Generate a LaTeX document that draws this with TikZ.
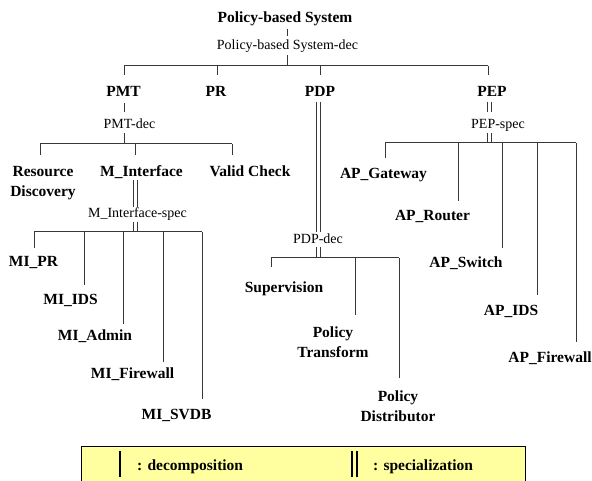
\documentclass[tikz,border=0pt]{standalone}
\usepackage{fontspec}
\setmainfont{Liberation Serif}
\begin{document}
\begin{tikzpicture}[x=1pt,y=-1pt,
  lbl/.style={font=\fontsize{15.5}{20}\selectfont\bfseries, align=center, inner sep=0pt, anchor=base},
  declbl/.style={font=\fontsize{14}{16}\selectfont, inner sep=0pt, anchor=base},
  legtxt/.style={font=\fontsize{15.5}{18}\selectfont\bfseries, inner sep=0pt, anchor=base west},
  ln/.style={draw=black!78, line width=1pt}]
\useasboundingbox (0,0) rectangle (592,481);

% legend
\fill[fill={rgb,255:red,255;green,255;blue,160}] (81,446) rectangle (525,482);
\draw[line width=1pt] (81,482) -- (81,446) -- (525,446) -- (525,482);
\coordinate (ld1) at (120,451); \coordinate (ld2) at (120,477);
\draw[line width=1.6pt] (ld1) -- (ld2);
\coordinate (ls1) at (352,451); \coordinate (ls2) at (352,477);
\coordinate (ls3) at (357,451); \coordinate (ls4) at (357,477);
\draw[line width=1.2pt] (ls1) -- (ls2);
\draw[line width=1.2pt] (ls3) -- (ls4);
\node[legtxt] (legdec) at (137,470) {: decomposition};
\node[legtxt] (legspec) at (373,470) {: specialization};

% text nodes
\node[lbl] (sys) at (285,23) {Policy-based System};
\node[declbl] (sysdec) at (287.5,50) {Policy-based System-dec};
\node[lbl] (pmt) at (123.5,97) {PMT};
\node[lbl] (pr) at (216,97) {PR};
\node[lbl] (pdp) at (320,97) {PDP};
\node[lbl] (pep) at (492,97) {PEP};
\node[declbl] (pmtdec) at (129.5,129) {PMT-dec};
\node[declbl] (pepspec) at (498,128.5) {PEP-spec};
\node[lbl] (rd) at (43,197) {Resource\\Discovery};
\node[lbl] (mi) at (141.5,177) {M\_Interface};
\node[lbl] (vc) at (250,177) {Valid Check};
\node[declbl] (mispec) at (137.5,218) {M\_Interface-spec};
\node[lbl] (mipr) at (33.5,267) {MI\_PR};
\node[lbl] (miids) at (70.5,305) {MI\_IDS};
\node[lbl] (miadmin) at (95,341) {MI\_Admin};
\node[lbl] (mifw) at (132.5,378) {MI\_Firewall};
\node[lbl] (misvdb) at (176.5,419) {MI\_SVDB};
\node[declbl] (pdpdec) at (318,244) {PDP-dec};
\node[lbl] (sup) at (284,292) {Supervision};
\node[lbl] (ptr) at (333,357) {Policy\\Transform};
\node[lbl] (pdi) at (398,421) {Policy\\Distributor};
\node[lbl] (apgw) at (383.5,179) {AP\_Gateway};
\node[lbl] (aprt) at (432.5,221) {AP\_Router};
\node[lbl] (apsw) at (466,268) {AP\_Switch};
\node[lbl] (apids) at (511,316) {AP\_IDS};
\node[lbl] (apfw) at (550,362) {AP\_Firewall};

% top level
\coordinate (s1) at (287,29); \coordinate (s2) at (287,36);
\coordinate (s3) at (287,55); \coordinate (s4) at (287,66);
\draw[ln] (s1) -- (s2);
\draw[ln] (s3) -- (s4);
\coordinate (bA) at (124,66); \coordinate (bB) at (488,66);
\draw[ln] (bA) -- (bB);
\foreach \x/\n in {124/a,217/b,320/c,488/d}{
  \coordinate (t\n) at (\x,66); \coordinate (u\n) at (\x,75.5);
  \draw[ln] (t\n) -- (u\n);
}

% PMT
\coordinate (p1) at (124,103); \coordinate (p2) at (124,112);
\coordinate (p3) at (124,133); \coordinate (p4) at (124,144);
\draw[ln] (p1) -- (p2);
\draw[ln] (p3) -- (p4);
\coordinate (pA) at (40,144); \coordinate (pB) at (232,144);
\draw[ln] (pA) -- (pB);
\foreach \x/\n in {40/a,135/b,232/c}{
  \coordinate (pt\n) at (\x,144); \coordinate (pu\n) at (\x,155);
  \draw[ln] (pt\n) -- (pu\n);
}

% M_Interface
\foreach \x/\n in {133/a,137/b}{
  \coordinate (m1\n) at (\x,180); \coordinate (m2\n) at (\x,207);
  \coordinate (m3\n) at (\x,222); \coordinate (m4\n) at (\x,232);
  \draw[ln] (m1\n) -- (m2\n);
  \draw[ln] (m3\n) -- (m4\n);
}
\coordinate (mA) at (34,232); \coordinate (mB) at (202,232);
\draw[ln] (mA) -- (mB);
\foreach \x/\y/\n in {34/248/a,84/285/b,123/324/c,163/362/d,202/399/e}{
  \coordinate (mt\n) at (\x,232); \coordinate (mu\n) at (\x,\y);
  \draw[ln] (mt\n) -- (mu\n);
}

% PDP
\foreach \x/\n in {316/a,320/b}{
  \coordinate (d1\n) at (\x,102); \coordinate (d2\n) at (\x,232);
  \coordinate (d3\n) at (\x,247); \coordinate (d4\n) at (\x,258);
  \draw[ln] (d1\n) -- (d2\n);
  \draw[ln] (d3\n) -- (d4\n);
}
\coordinate (dA) at (271,258); \coordinate (dB) at (399,258);
\draw[ln] (dA) -- (dB);
\foreach \x/\y/\n in {271/267/a,355/315/b,399/378/c}{
  \coordinate (dt\n) at (\x,258); \coordinate (du\n) at (\x,\y);
  \draw[ln] (dt\n) -- (du\n);
}

% PEP
\foreach \x/\n in {487/a,491/b}{
  \coordinate (e1\n) at (\x,102); \coordinate (e2\n) at (\x,112);
  \coordinate (e3\n) at (\x,133); \coordinate (e4\n) at (\x,143);
  \draw[ln] (e1\n) -- (e2\n);
  \draw[ln] (e3\n) -- (e4\n);
}
\coordinate (eA) at (385,143); \coordinate (eB) at (576,143);
\draw[ln] (eA) -- (eB);
\foreach \x/\y/\n in {385/158/a,458/201/b,502/248/c,537/295/d,576/342/e}{
  \coordinate (et\n) at (\x,143); \coordinate (eu\n) at (\x,\y);
  \draw[ln] (et\n) -- (eu\n);
}
\end{tikzpicture}
\end{document}
